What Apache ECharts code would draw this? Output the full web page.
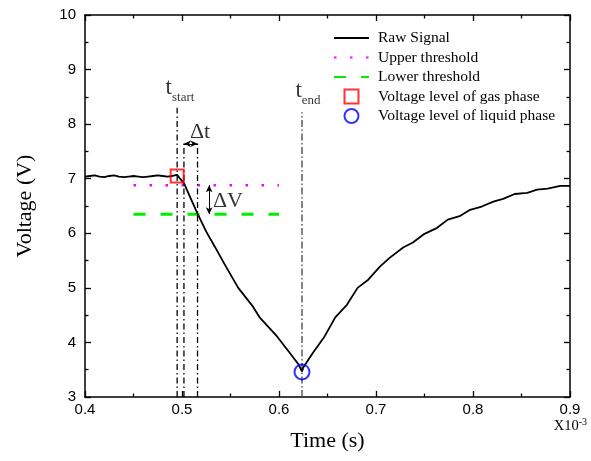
<!DOCTYPE html>
<html>
<head>
<meta charset="utf-8">
<script src="https://cdn.jsdelivr.net/npm/echarts@6/dist/echarts.min.js"></script>
<style>html,body{margin:0;padding:0;background:#fff}#c{width:591px;height:461px}</style>
</head>
<body>
<div id="c"></div>
<script>
// ---- data ----
const rawTime = [0.400,0.405,0.410,0.415,0.420,0.425,0.430,0.435,0.440,0.445,0.450,0.455,0.460,0.465,0.470,0.475,0.480,0.485,0.490,0.495,0.498,0.500,0.502,0.510,0.516,0.525,0.534,0.544,0.558,0.573,0.580,0.598,0.611,0.620,0.6237,0.625,0.635,0.647,0.658,0.670,0.681,0.692,0.704,0.714,0.728,0.738,0.750,0.763,0.774,0.787,0.797,0.809,0.821,0.831,0.843,0.856,0.866,0.877,0.890,0.900];
const rawVolt = [7.04,7.05,7.06,7.04,7.03,7.05,7.06,7.04,7.03,7.04,7.05,7.04,7.03,7.04,7.05,7.06,7.05,7.04,7.05,7.07,7.00,7.02,6.92,6.60,6.36,6.03,5.75,5.43,5.00,4.66,4.46,4.11,3.81,3.60,3.47,3.54,3.81,4.11,4.46,4.69,5.00,5.15,5.39,5.55,5.74,5.83,5.99,6.10,6.25,6.32,6.43,6.49,6.58,6.63,6.72,6.74,6.80,6.82,6.87,6.87];
const thresholdTime = [0.45, 0.60];
const upperThreshold = 6.88;
const lowerThreshold = 6.35;
const gasPoint = [0.495, 7.05];
const liquidPoint = [0.6237, 3.46];
const markerTimes = [0.495, 0.502, 0.516];
const markerTops = [8.30, 7.68, 7.68];
const endTime = 0.6237, endTop = 8.22;
const deltaTLevel = 7.64;
const deltaVTime = 0.528;
const xTicks = [0.4, 0.9, 0.1];
const yTicks = [3, 10, 1];
const labelPos = {tstart:[0.4979, 8.66], tend:[0.6299, 8.61], dt:[0.5186, 7.85], dv:[0.5474, 6.58]};
const legendNames = ['Raw Signal','Upper threshold','Lower threshold','Voltage level of gas phase','Voltage level of liquid phase'];

const serif = 'Liberation Serif';
const sans = 'Liberation Sans';

function vline(t, top, color, dash, name) {
  return {type:'line', name:name, data:[[t,yTicks[0]],[t,top]], symbol:'none', silent:true,
    lineStyle:{color:color, width:1.3, type:dash}, z:3};
}
function textPoint(pos, text, rich) {
  return {type:'scatter', data:[pos], symbolSize:0, silent:true,
    label:{show:true, position:'inside', formatter:text, rich:rich, color:'#000'}, z:6};
}

const series = [];
markerTimes.forEach((t,i)=>series.push(vline(t, markerTops[i], '#000', [6,3,1.5,3], 'm'+i)));
series.push(vline(endTime, endTop, '#444', [7,2.5,1.5,2.5], 'mend'));
series.push({type:'line', name:legendNames[0], data:rawTime.map((t,i)=>[t,rawVolt[i]]), symbol:'none',
  lineStyle:{color:'#000', width:1.8}, itemStyle:{color:'#000'}, z:4});
series.push({type:'line', name:legendNames[1], data:thresholdTime.map(t=>[t,upperThreshold]), symbol:'none',
  lineStyle:{color:'#ff00ff', width:2.5, type:[2.5,13.5]}, itemStyle:{color:'#ff00ff'}, z:2});
series.push({type:'line', name:legendNames[2], data:thresholdTime.map(t=>[t,lowerThreshold]), symbol:'none',
  lineStyle:{color:'#00ee00', width:3, type:[12,15]}, itemStyle:{color:'#00ee00'}, z:2});
series.push({type:'scatter', name:legendNames[3], data:[gasPoint], symbol:'rect', symbolSize:13,
  itemStyle:{color:'rgba(255,255,255,0)', borderColor:'#ff0000', borderWidth:2}, z:5});
series.push({type:'scatter', name:legendNames[4], data:[liquidPoint], symbol:'circle', symbolSize:15,
  itemStyle:{color:'rgba(255,255,255,0)', borderColor:'#0000ff', borderWidth:2}, z:5});
// arrows
series.push({type:'line', name:'arrows', data:[], silent:true,
  markLine:{silent:true, symbol:['arrow','arrow'], symbolSize:[5,7],
    lineStyle:{color:'#000', width:1, type:'solid'}, label:{show:false},
    data:[
      [{coord:[markerTimes[1], deltaTLevel]},{coord:[markerTimes[2], deltaTLevel]}],
      [{coord:[deltaVTime, upperThreshold]},{coord:[deltaVTime, lowerThreshold]}]
    ]}});
// text labels
const subRich = {t:{fontFamily:serif, fontSize:23, lineHeight:22}, s:{fontFamily:serif, fontSize:13, lineHeight:13, padding:[19,0,0,0]}};
series.push(textPoint(labelPos.tstart, '{t|t}{s|start}', subRich));
series.push(textPoint(labelPos.tend, '{t|t}{s|end}', subRich));
series.push(textPoint(labelPos.dt, '{a|Δt}', {a:{fontFamily:serif, fontSize:22}}));
series.push(textPoint(labelPos.dv, '{a|ΔV}', {a:{fontFamily:serif, fontSize:22}}));

const axisLineStyle = {lineStyle:{color:'#000', width:1.5}};
const tickStyle = {inside:true, length:6, lineStyle:{color:'#000', width:1.3}};
const minorStyle = {show:true, splitNumber:2, length:3.5, lineStyle:{color:'#000', width:1.3}};
const hiddenSymbol = {color:'rgba(0,0,0,0)', borderWidth:0, opacity:0};

const chart = echarts.init(document.getElementById('c'), null, {renderer:'canvas'});
chart.setOption({
  animation:false,
  backgroundColor:'#fff',
  grid:{left:85, right:21, top:15, bottom:64, containLabel:false},
  legend:{
    data:[
      {name:legendNames[0], itemStyle:hiddenSymbol},
      {name:legendNames[1], itemStyle:hiddenSymbol},
      {name:legendNames[2], itemStyle:hiddenSymbol},
      {name:legendNames[3], icon:'path://M0,0H10V10H0Z', itemStyle:{color:'rgba(255,255,255,0)', borderColor:'#ff0000', borderWidth:2}},
      {name:legendNames[4], icon:'circle', itemStyle:{color:'rgba(255,255,255,0)', borderColor:'#0000ff', borderWidth:2}}
    ],
    orient:'vertical', left:333, top:30, padding:0, itemWidth:35, itemHeight:14, itemGap:3.5,
    textStyle:{fontFamily:serif, fontSize:15.5, lineHeight:14, color:'#000', padding:[0,0,0,4]}
  },
  xAxis:[
    {type:'value', min:xTicks[0], max:xTicks[1], interval:xTicks[2], position:'bottom',
     name:'Time (s)', nameLocation:'middle', nameGap:33, nameTextStyle:{fontFamily:serif, fontSize:22, color:'#000'},
     axisLine:axisLineStyle, axisTick:tickStyle, minorTick:minorStyle, splitLine:{show:false},
     axisLabel:{fontFamily:sans, fontSize:15, color:'#000', margin:5, formatter:v=>v.toFixed(1)}},
    {type:'value', min:xTicks[0], max:xTicks[1], interval:xTicks[2], position:'top',
     axisLine:axisLineStyle, axisTick:tickStyle, minorTick:minorStyle, splitLine:{show:false}, axisLabel:{show:false}}
  ],
  yAxis:[
    {type:'value', min:yTicks[0], max:yTicks[1], interval:yTicks[2], position:'left',
     name:'Voltage (V)', nameLocation:'middle', nameGap:49, nameTextStyle:{fontFamily:serif, fontSize:22, color:'#000'},
     axisLine:axisLineStyle, axisTick:tickStyle, minorTick:minorStyle, splitLine:{show:false},
     axisLabel:{fontFamily:sans, fontSize:15, color:'#000', margin:9}},
    {type:'value', min:yTicks[0], max:yTicks[1], interval:yTicks[2], position:'right',
     axisLine:axisLineStyle, axisTick:tickStyle, minorTick:minorStyle, splitLine:{show:false}, axisLabel:{show:false}}
  ],
  graphic:[{type:'text', right:4, top:417,
    style:{text:'{a|X10}{b|-3}', rich:{a:{fontFamily:serif, fontSize:14.5, fill:'#000'}, b:{fontFamily:serif, fontSize:10, fill:'#000', padding:[0,0,9,0]}}}}],
  series:series
});
</script>
</body>
</html>
